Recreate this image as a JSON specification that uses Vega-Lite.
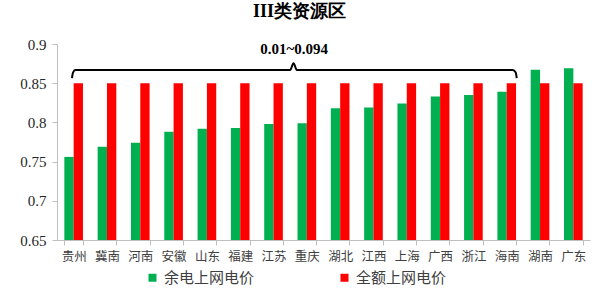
{
  "$schema": "https://vega.github.io/schema/vega-lite/v6.json",
  "autosize": "none",
  "width": 533,
  "height": 196,
  "padding": {"left": 57, "top": 44, "right": 10, "bottom": 54},
  "background": "white",
  "config": {
    "view": {"stroke": null},
    "axisY": {
      "grid": false,
      "labelOverlap": false,
      "labelFont": "Liberation Serif",
      "labelFontSize": 15,
      "labelColor": "#262626",
      "labelPadding": 6,
      "domainColor": "#bfbfbf",
      "tickColor": "#bfbfbf",
      "tickSize": 5
    }
  },
  "title": {
    "text": "III类资源区",
    "font": "Liberation Serif",
    "fontSize": 18,
    "fontWeight": "bold",
    "color": "#000000",
    "anchor": "middle",
    "dx": -24,
    "offset": 16
  },
  "datasets": {
    "bars": [
      {"province": "贵州", "series": "余电上网电价", "value": 0.756},
      {"province": "贵州", "series": "全额上网电价", "value": 0.85},
      {"province": "冀南", "series": "余电上网电价", "value": 0.769},
      {"province": "冀南", "series": "全额上网电价", "value": 0.85},
      {"province": "河南", "series": "余电上网电价", "value": 0.774},
      {"province": "河南", "series": "全额上网电价", "value": 0.85},
      {"province": "安徽", "series": "余电上网电价", "value": 0.788},
      {"province": "安徽", "series": "全额上网电价", "value": 0.85},
      {"province": "山东", "series": "余电上网电价", "value": 0.792},
      {"province": "山东", "series": "全额上网电价", "value": 0.85},
      {"province": "福建", "series": "余电上网电价", "value": 0.793},
      {"province": "福建", "series": "全额上网电价", "value": 0.85},
      {"province": "江苏", "series": "余电上网电价", "value": 0.798},
      {"province": "江苏", "series": "全额上网电价", "value": 0.85},
      {"province": "重庆", "series": "余电上网电价", "value": 0.799},
      {"province": "重庆", "series": "全额上网电价", "value": 0.85},
      {"province": "湖北", "series": "余电上网电价", "value": 0.818},
      {"province": "湖北", "series": "全额上网电价", "value": 0.85},
      {"province": "江西", "series": "余电上网电价", "value": 0.819},
      {"province": "江西", "series": "全额上网电价", "value": 0.85},
      {"province": "上海", "series": "余电上网电价", "value": 0.824},
      {"province": "上海", "series": "全额上网电价", "value": 0.85},
      {"province": "广西", "series": "余电上网电价", "value": 0.833},
      {"province": "广西", "series": "全额上网电价", "value": 0.85},
      {"province": "浙江", "series": "余电上网电价", "value": 0.835},
      {"province": "浙江", "series": "全额上网电价", "value": 0.85},
      {"province": "海南", "series": "余电上网电价", "value": 0.839},
      {"province": "海南", "series": "全额上网电价", "value": 0.85},
      {"province": "湖南", "series": "余电上网电价", "value": 0.867},
      {"province": "湖南", "series": "全额上网电价", "value": 0.85},
      {"province": "广东", "series": "余电上网电价", "value": 0.869},
      {"province": "广东", "series": "全额上网电价", "value": 0.85}
    ],
    "brace": [
      {"i": 0, "bx": 0.45, "by": 0.8565},
      {"i": 1, "bx": 0.48, "by": 0.8635},
      {"i": 2, "bx": 0.55, "by": 0.8668},
      {"i": 3, "bx": 7.0, "by": 0.8668},
      {"i": 4, "bx": 7.1, "by": 0.8755},
      {"i": 5, "bx": 7.2, "by": 0.8668},
      {"i": 6, "bx": 13.68, "by": 0.8668},
      {"i": 7, "bx": 13.77, "by": 0.8635},
      {"i": 8, "bx": 13.8, "by": 0.8565}
    ],
    "note": [
      {"bx": 7.12, "by": 0.8935, "label": "0.01~0.094"}
    ]
  },
  "layer": [
    {
      "data": {"name": "bars"},
      "mark": {"type": "bar"},
      "encoding": {
        "x": {
          "field": "province",
          "type": "nominal",
          "sort": null,
          "scale": {"paddingInner": 0.44, "paddingOuter": 0.22},
          "axis": {
            "title": null,
            "labelAngle": 0,
            "labelFont": "Noto Sans CJK SC",
            "labelFontSize": 12.5,
            "labelColor": "#404040",
            "labelPadding": 5,
            "domainColor": "#bfbfbf",
            "tickColor": "#bfbfbf",
            "tickSize": 5,
            "tickBand": "extent"
          }
        },
        "xOffset": {
          "field": "series",
          "type": "nominal",
          "sort": ["余电上网电价", "全额上网电价"],
          "scale": {"paddingInner": 0, "paddingOuter": 0}
        },
        "y": {
          "field": "value",
          "type": "quantitative",
          "scale": {"domain": [0.65, 0.9], "zero": false, "nice": false, "clamp": true},
          "axis": {"title": null, "values": [0.65, 0.7, 0.75, 0.8, 0.85, 0.9], "format": "~f"}
        },
        "color": {
          "field": "series",
          "type": "nominal",
          "sort": ["余电上网电价", "全额上网电价"],
          "scale": {"domain": ["余电上网电价", "全额上网电价"], "range": ["#00B050", "#FF0000"]},
          "legend": {
            "title": null,
            "orient": "none",
            "direction": "horizontal",
            "legendX": 88,
            "legendY": 226,
            "symbolType": "square",
            "symbolSize": 64,
            "symbolStrokeWidth": 0,
            "labelFont": "Noto Sans CJK SC",
            "labelFontSize": 15,
            "labelColor": "#404040",
            "labelOffset": 4,
            "columnPadding": 82
          }
        }
      }
    },
    {
      "data": {"name": "brace"},
      "mark": {"type": "line", "color": "#000000", "strokeWidth": 2, "interpolate": "monotone"},
      "encoding": {
        "x": {"field": "bx", "type": "quantitative", "scale": {"domain": [0, 16], "nice": false, "zero": false}, "axis": null},
        "y": {"field": "by", "type": "quantitative", "axis": {"title": null, "values": [0.65, 0.7, 0.75, 0.8, 0.85, 0.9], "format": "~f"}},
        "order": {"field": "i", "type": "quantitative"}
      }
    },
    {
      "data": {"name": "note"},
      "mark": {"type": "text", "font": "Liberation Serif", "fontSize": 15, "fontWeight": "bold", "color": "#000000", "baseline": "middle", "align": "center"},
      "encoding": {
        "x": {"field": "bx", "type": "quantitative", "scale": {"domain": [0, 16], "nice": false, "zero": false}, "axis": null},
        "y": {"field": "by", "type": "quantitative", "axis": {"title": null, "values": [0.65, 0.7, 0.75, 0.8, 0.85, 0.9], "format": "~f"}},
        "text": {"field": "label"}
      }
    }
  ],
  "resolve": {"scale": {"x": "independent"}}
}
